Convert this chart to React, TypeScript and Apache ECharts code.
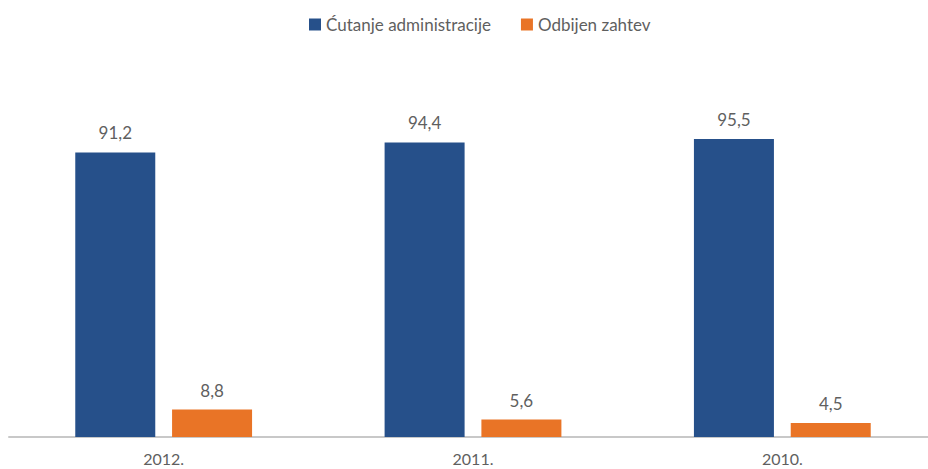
import React, { useEffect, useRef } from "react";
import * as echarts from "echarts";

const categories = ["2012.", "2011.", "2010."];
const seriesNames = ["Ćutanje administracije", "Odbijen zahtev"];
const silenceValues = [91.2, 94.4, 95.5];
const rejectedValues = [8.8, 5.6, 4.5];

const FONT = "Lato, 'Open Sans', sans-serif";
const TEXT = "#5f5f5f";

export default function App() {
  const ref = useRef<HTMLDivElement>(null);
  useEffect(() => {
    if (!ref.current) return;
    const chart = echarts.init(ref.current, undefined, { renderer: "svg" });
    const label = {
      show: true,
      position: "top" as const,
      distance: 11,
      color: TEXT,
      fontSize: 17,
      fontFamily: FONT,
      formatter: (p: any) => String(p.value).replace(".", ","),
    };
    chart.setOption({
      animation: false,
      legend: {
        top: 11,
        left: 304,
        itemWidth: 12,
        itemHeight: 12,
        itemGap: 30,
        icon: "rect",
        textStyle: { color: TEXT, fontSize: 17, fontFamily: FONT },
        data: seriesNames,
      },
      grid: {
        left: 9,
        width: 928,
        top: 125,
        height: 312,
        containLabel: false,
        outerBoundsMode: "none",
      },
      xAxis: {
        type: "category",
        data: categories,
        axisLine: { lineStyle: { color: "#c8c8c8", width: 2 } },
        axisTick: { show: false },
        axisLabel: { color: TEXT, fontSize: 16, fontFamily: FONT, margin: 13 },
      },
      yAxis: {
        type: "value",
        min: 0,
        max: 100,
        show: false,
        splitLine: { show: false },
      },
      series: [
        {
          name: seriesNames[0],
          type: "bar",
          data: silenceValues,
          barWidth: 80,
          barGap: "21%",
          itemStyle: { color: "#26508A" },
          label,
        },
        {
          name: seriesNames[1],
          type: "bar",
          data: rejectedValues,
          barWidth: 80,
          itemStyle: { color: "#E97426" },
          label,
        },
      ],
    });
    return () => chart.dispose();
  }, []);
  return <div ref={ref} style={{ width: 928, height: 469, position: "absolute", left: 0, top: 0 }} />;
}
